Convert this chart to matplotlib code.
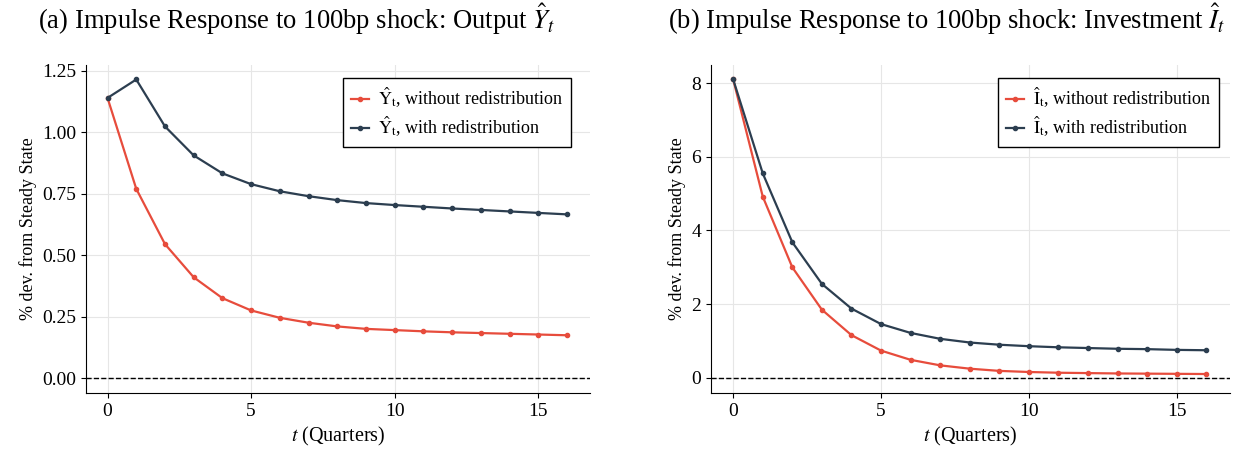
import matplotlib
matplotlib.use("Agg")
import matplotlib.pyplot as plt
import numpy as np

plt.rcParams['font.family'] = ['Liberation Serif', 'DejaVu Serif']
plt.rcParams['mathtext.fontset'] = 'stix'

t = list(range(17))
y_without = [1.14, 0.77, 0.545, 0.41, 0.325, 0.275, 0.245, 0.225, 0.21, 0.2, 0.195, 0.19, 0.186, 0.183, 0.18, 0.177, 0.174]
y_with = [1.14, 1.215, 1.024, 0.906, 0.833, 0.789, 0.76, 0.74, 0.724, 0.712, 0.704, 0.697, 0.69, 0.684, 0.678, 0.672, 0.666]
i_without = [8.1, 4.92, 3.0, 1.85, 1.16, 0.74, 0.49, 0.34, 0.25, 0.19, 0.16, 0.14, 0.13, 0.12, 0.115, 0.11, 0.105]
i_with = [8.1, 5.55, 3.68, 2.55, 1.88, 1.46, 1.22, 1.06, 0.96, 0.9, 0.86, 0.83, 0.81, 0.79, 0.78, 0.76, 0.75]

RED = '#e74c3c'
BLUE = '#2c3e50'

W, H = 1239, 455
fig = plt.figure(figsize=(W / 100, H / 100), dpi=100)
ax1 = fig.add_axes([86/W, 1-393/H, 504/W, 328/H])
ax2 = fig.add_axes([711/W, 1-393/H, 519/W, 328/H])

def style(ax):
    ax.spines['top'].set_visible(False)
    ax.spines['right'].set_visible(False)
    ax.grid(True, color='#e6e6e6', linewidth=0.8)
    ax.set_axisbelow(True)
    ax.tick_params(labelsize=14)
    ax.axhline(0, color='black', linestyle='--', linewidth=1)
    ax.set_xlabel(r'$t$ (Quarters)', fontsize=14.5)
    ax.set_ylabel('% dev. from Steady State', fontsize=13)
    ax.set_xticks([0, 5, 10, 15])
    ax.set_xlim(-0.75, 16.8)

def legend(ax, x):
    leg = ax.legend(loc='upper right', bbox_to_anchor=(x, 0.96), borderaxespad=0,
                    fontsize=13, fancybox=False, edgecolor='black', framealpha=1,
                    handlelength=1.0, handletextpad=0.5, labelspacing=0.25,
                    borderpad=0.45)
    leg.get_frame().set_linewidth(1)

ax1.plot(t, y_without, color=RED, marker='o', markersize=3, linewidth=1.6,
         label=r'$\mathrm{\hat{Y}_t}$, without redistribution')
ax1.plot(t, y_with, color=BLUE, marker='o', markersize=3, linewidth=1.6,
         label=r'$\mathrm{\hat{Y}_t}$, with redistribution')
style(ax1)
ax1.set_ylim(-0.061, 1.274)
ax1.set_yticks([0, 0.25, 0.5, 0.75, 1.0, 1.25])
ax1.set_yticklabels(['0.00', '0.25', '0.50', '0.75', '1.00', '1.25'])
fig.text(38/W, 1-29/H, r'(a) Impulse Response to 100bp shock: Output $\hat{Y}_t$',
         fontsize=19.2, ha='left', va='baseline')
legend(ax1, 0.962)

ax2.plot(t, i_without, color=RED, marker='o', markersize=3, linewidth=1.6,
         label=r'$\mathrm{\hat{I}_t}$, without redistribution')
ax2.plot(t, i_with, color=BLUE, marker='o', markersize=3, linewidth=1.6,
         label=r'$\mathrm{\hat{I}_t}$, with redistribution')
style(ax2)
ax2.set_ylim(-0.41, 8.49)
ax2.set_yticks([0, 2, 4, 6, 8])
fig.text(1225/W, 1-29/H, r'(b) Impulse Response to 100bp shock: Investment $\hat{I}_t$',
         fontsize=19.2, ha='right', va='baseline')
legend(ax2, 0.979)

fig.savefig('out.png', dpi=100)
